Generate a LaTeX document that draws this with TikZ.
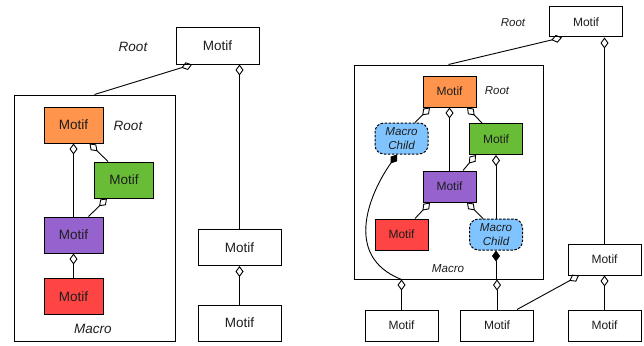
\documentclass[tikz,border=0pt]{standalone}
\usepackage{fontspec}
\setmainfont{Liberation Sans}
\usepackage{tikz}
\usetikzlibrary{arrows.meta}
\usepackage{xcolor}

\definecolor{motiforange}{RGB}{255,148,77}
\definecolor{motifgreen}{RGB}{104,188,54}
\definecolor{motifpurple}{RGB}{150,98,206}
\definecolor{motifred}{RGB}{255,68,68}
\definecolor{childblue}{RGB}{128,196,255}
\definecolor{inktext}{RGB}{30,30,30}

\begin{document}
\begin{tikzpicture}[x=1pt, y=-1pt]
        % ================= 样式定义 =================
        \tikzset{
            % 普通 Motif 方框
            motif/.style={draw=black, line width=1pt, fill=white, inner sep=0pt, text=inktext},
            % 左图尺寸
            lsize/.style={font=\fontsize{13.5}{16}\selectfont},
            % 右图尺寸
            rsize/.style={font=\fontsize{12}{14}\selectfont},
            % Macro 大框
            macrobox/.style={draw=black, line width=1pt, inner sep=0pt},
            % Macro Child 虚线圆角框
            childbox/.style={draw=black, line width=1pt, dash pattern=on 2.5pt off 1.5pt, rounded corners=9pt, fill=childblue,
                             inner sep=0pt, align=center, text=inktext, minimum width=53pt, minimum height=31pt,
                             font=\fontsize{11.6}{13.5}\selectfont\itshape},
            % 斜体标签
            tag/.style={text=inktext, inner sep=0pt},
            % 聚合连线 (空心菱形)
            agg/.style={{Diamond[open, length=11pt, width=8pt]}-, line width=0.9pt},
            % 组合连线 (实心菱形)
            comp/.style={{Diamond[fill=black, length=11pt, width=8pt]}-, line width=0.9pt}
        }

        \useasboundingbox (0,0) rectangle (644,345);

        % ================= 1. 左图 =================
        \node[motif, lsize, minimum width=83pt, minimum height=36pt] (lroot) at (217.5,46) {Motif};
        \node[tag, lsize, font=\fontsize{13.5}{16}\selectfont\itshape] (lrootlbl) at (133,47) {Root};

        \node[macrobox, minimum width=161pt, minimum height=246pt] (lmacro) at (94.5,218) {};
        \node[tag, font=\fontsize{13.5}{16}\selectfont\itshape] (lmacrolbl) at (93,329) {Macro};

        \node[motif, lsize, fill=motiforange, minimum width=59pt, minimum height=36pt] (lorange) at (73.5,125) {Motif};
        \node[tag, font=\fontsize{13.5}{16}\selectfont\itshape] (linnerlbl) at (128,126) {Root};
        \node[motif, lsize, fill=motifgreen, minimum width=59pt, minimum height=36pt] (lgreen) at (124,180) {Motif};
        \node[motif, lsize, fill=motifpurple, minimum width=59pt, minimum height=36pt] (lpurple) at (73.5,235) {Motif};
        \node[motif, lsize, fill=motifred, minimum width=59pt, minimum height=36pt] (lred) at (73.5,296.5) {Motif};

        \node[motif, lsize, minimum width=83pt, minimum height=36pt] (lmid) at (239.5,247.5) {Motif};
        \node[motif, lsize, minimum width=83pt, minimum height=36pt] (lbot) at (239.5,323) {Motif};

        % --- 左图连线 ---
        \draw[agg] ([xshift=-25.5pt]lroot.south) -- (lmacro.north);
        \draw[agg] (lroot.south -| lmid.north) -- (lmid.north);
        \draw[agg] (lmid.south) -- (lbot.north);
        \draw[agg] (lorange.south) -- (lpurple.north);
        \draw[agg] ([xshift=16pt]lorange.south) -- ([xshift=-16pt]lgreen.north);
        \draw[agg] ([xshift=-17pt]lgreen.south) -- ([xshift=15pt]lpurple.north);
        \draw[agg] (lpurple.south) -- (lred.north);

        % ================= 2. 右图 =================
        \node[motif, rsize, minimum width=73pt, minimum height=30pt] (rroot) at (586,22) {Motif};
        \node[tag, font=\fontsize{11.5}{14}\selectfont\itshape] (rrootlbl) at (513,23) {Root};

        \node[macrobox, minimum width=189pt, minimum height=214pt] (rmacro) at (448.5,172) {};
        \node[tag, font=\fontsize{11.6}{14}\selectfont\itshape] (rmacrolbl) at (448,269) {Macro};

        \node[motif, rsize, fill=motiforange, minimum width=53pt, minimum height=31pt] (rorange) at (449.5,91.5) {Motif};
        \node[tag, font=\fontsize{11.5}{14}\selectfont\itshape] (rinnerlbl) at (497,91) {Root};
        \node[childbox] (rchildA) at (401.5,138.5) {Macro\\Child};
        \node[motif, rsize, fill=motifgreen, minimum width=53pt, minimum height=31pt] (rgreen) at (496,139) {Motif};
        \node[motif, rsize, fill=motifpurple, minimum width=53pt, minimum height=31pt] (rpurple) at (449.5,186.5) {Motif};
        \node[motif, rsize, fill=motifred, minimum width=53pt, minimum height=31pt] (rred) at (401.5,234.5) {Motif};
        \node[childbox] (rchildB) at (496,234.5) {Macro\\Child};

        \node[motif, rsize, minimum width=73pt, minimum height=31pt] (rmid) at (604.5,259.5) {Motif};
        \node[motif, rsize, minimum width=73pt, minimum height=31pt] (rbotA) at (401.5,325.5) {Motif};
        \node[motif, rsize, minimum width=73pt, minimum height=31pt] (rbotB) at (497,325.5) {Motif};
        \node[motif, rsize, minimum width=73pt, minimum height=31pt] (rbotC) at (604.5,325.5) {Motif};

        % --- 右图连线 ---
        \draw[agg] ([xshift=-24pt]rroot.south) -- (rmacro.north);
        \draw[agg] (rroot.south -| rmid.north) -- (rmid.north);
        \draw[agg] (rmid.south) -- (rbotC.north);
        \draw[agg] ([xshift=-25.5pt]rmid.south) -- ([xshift=20pt]rbotB.north);

        \draw[agg] ([xshift=-19.5pt]rorange.south) -- ([xshift=13.5pt]rchildA.north);
        \draw[agg] (rorange.south) -- (rpurple.north);
        \draw[agg] ([xshift=17.5pt]rorange.south) -- ([xshift=-14pt]rgreen.north);
        \draw[agg] ([xshift=-20pt]rgreen.south) -- ([xshift=13.5pt]rpurple.north);
        \draw[agg] (rgreen.south) -- (rchildB.north);
        \draw[agg] ([xshift=-19.5pt]rpurple.south) -- ([xshift=13.5pt]rred.north);
        \draw[agg] ([xshift=17.5pt]rpurple.south) -- ([xshift=-13pt]rchildB.north);

        % Macro Child 委托到 Macro 边框
        \draw[comp] ([xshift=-4.5pt]rchildA.south) .. controls +(-25,35) and +(-61,-24) .. (rmacro.south -| rbotA.north);
        \draw[comp] (rchildB.south) -- (rmacro.south -| rchildB.south);

        % Macro 边框到下方 Motif
        \draw[agg] (rmacro.south -| rbotA.north) -- (rbotA.north);
        \draw[agg] (rmacro.south -| rbotB.north) -- (rbotB.north);

    \end{tikzpicture}
\end{document}
